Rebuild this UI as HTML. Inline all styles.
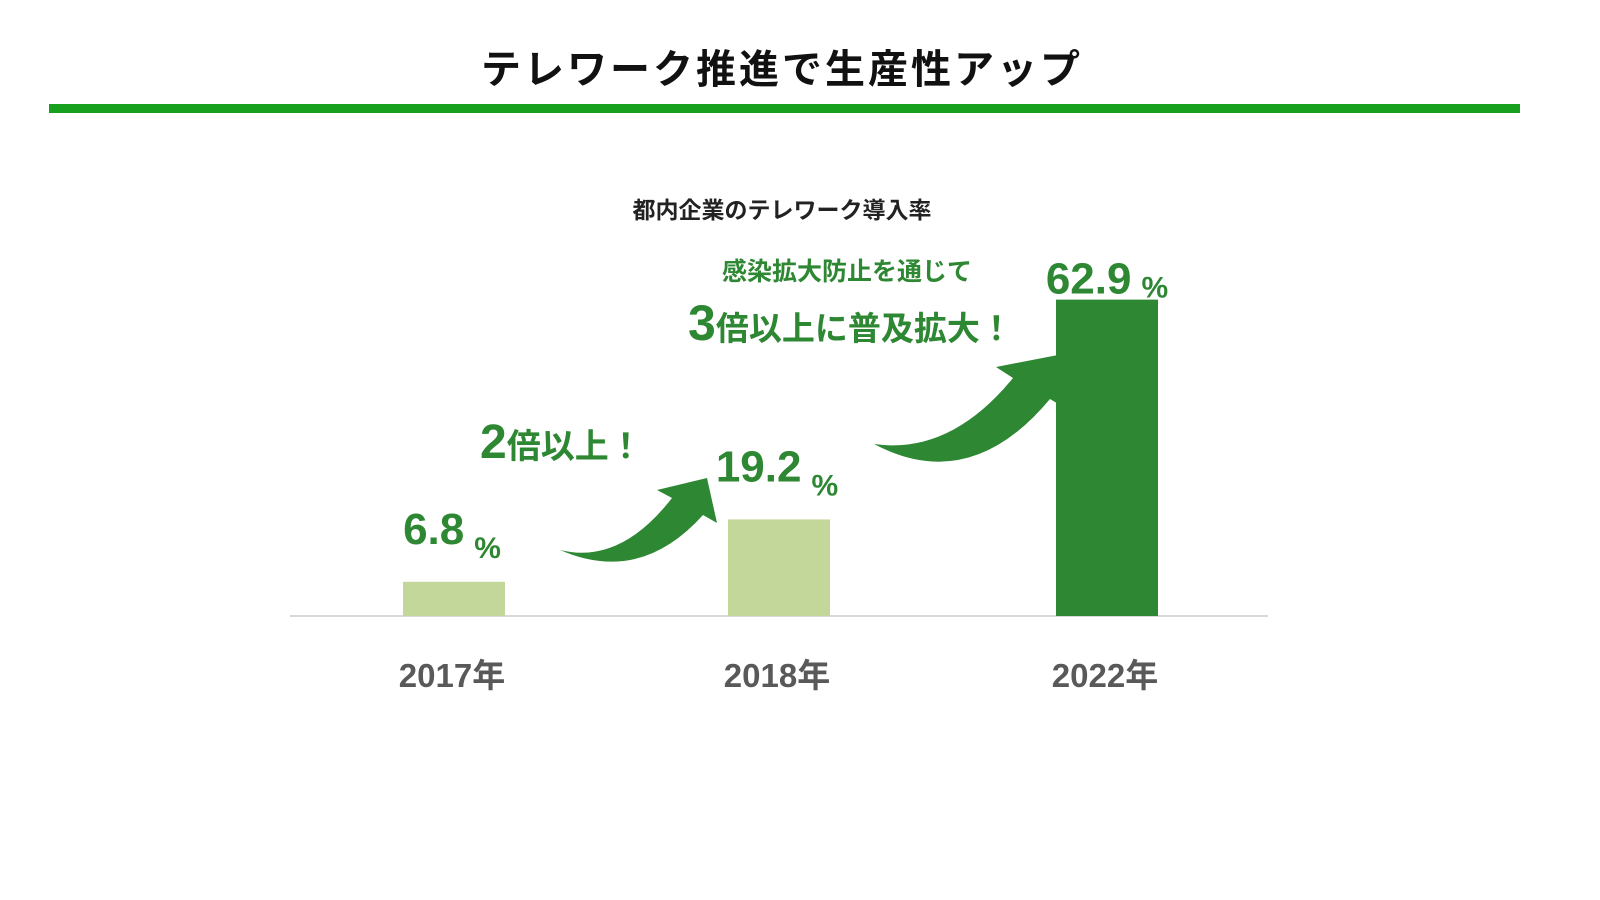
<!DOCTYPE html>
<html><head><meta charset="utf-8"><style>
body{margin:0;width:1600px;height:900px;background:#fff;overflow:hidden;font-family:"Liberation Sans","Noto Sans CJK JP",sans-serif}
</style></head><body>
<svg width="1600" height="900" style="position:absolute;left:0;top:0">
<text x="782" y="83" text-anchor="middle" font-size="40" font-weight="bold" fill="#111" letter-spacing="3" font-family="Noto Sans CJK JP,sans-serif">テレワーク推進で生産性アップ</text>
<rect x="49" y="104" width="1471" height="9" fill="#16a01e"/>
<text x="782" y="218" text-anchor="middle" font-size="23" font-weight="bold" fill="#222" font-family="Noto Sans CJK JP,sans-serif">都内企業のテレワーク導入率</text>
<line x1="290" y1="616" x2="1268" y2="616" stroke="#d9d9d9" stroke-width="2"/>
<g id="bars"></g>
<path fill="#2e8732" d="M560,550 Q620,565 672,498 L657,490 L707,478 L717,523 L703,515 Q640,585 560,550 Z"/>
<path fill="#2e8732" d="M874,444 Q950,455 1013,378 L996,367 L1058,355 L1060,405 L1050,399 Q970,495 874,444 Z"/>
<text x="480" y="458" font-size="34" font-weight="bold" fill="#2e8732" font-family="Noto Sans CJK JP,sans-serif"><tspan font-size="48" font-family="Liberation Sans">2</tspan>倍以上！</text>
<text x="722" y="280" font-size="25" font-weight="bold" fill="#2e8732" font-family="Noto Sans CJK JP,sans-serif">感染拡大防止を通じて</text>
<text x="688" y="340" font-size="33" font-weight="bold" fill="#2e8732" font-family="Noto Sans CJK JP,sans-serif"><tspan font-size="50" font-family="Liberation Sans">3</tspan>倍以上に普及拡大！</text>
</svg>
<script>
const categories=["2017年","2018年","2022年"];
const values=[6.8,19.2,62.9];
const valueLabels=["6.8","19.2","62.9"];
const colors=["#c4d79b","#c4d79b","#2e8732"];
const base=616,scale=5.03;
const y=v=>base-v*scale;
const xc=i=>[454,779,1107][i];
const g=document.getElementById('bars');
const NS='http://www.w3.org/2000/svg';
values.forEach((v,i)=>{
 const r=document.createElementNS(NS,'rect');
 
 
 r.setAttribute('x',xc(i)-51);r.setAttribute('width',102);
 r.setAttribute('y',y(v));r.setAttribute('height',v*scale);r.setAttribute('fill',colors[i]);
 g.appendChild(r);
 const t=document.createElementNS(NS,'text');
 
 
 t.setAttribute('x',xc(i)+(i==2?0:-2));t.setAttribute('y',y(v)-(i==2?6:38));
 t.setAttribute('text-anchor','middle');t.setAttribute('font-size','44');t.setAttribute('font-weight','bold');t.setAttribute('fill','#2e8732');
 t.innerHTML=valueLabels[i]+'<tspan font-size="30" dx="10" dy="'+(i==2?4:14)+'">%</tspan>';
 g.appendChild(t);
 const c=document.createElementNS(NS,'text');
 
 
 c.setAttribute('x',xc(i)-2);c.setAttribute('y',687);c.setAttribute('text-anchor','middle');
 c.setAttribute('font-size','33');c.setAttribute('font-weight','bold');c.setAttribute('fill','#595959');
 c.setAttribute('font-family','Liberation Sans,Noto Sans CJK JP,sans-serif');
 c.textContent=categories[i];
 g.appendChild(c);
});
</script>
</body></html>
